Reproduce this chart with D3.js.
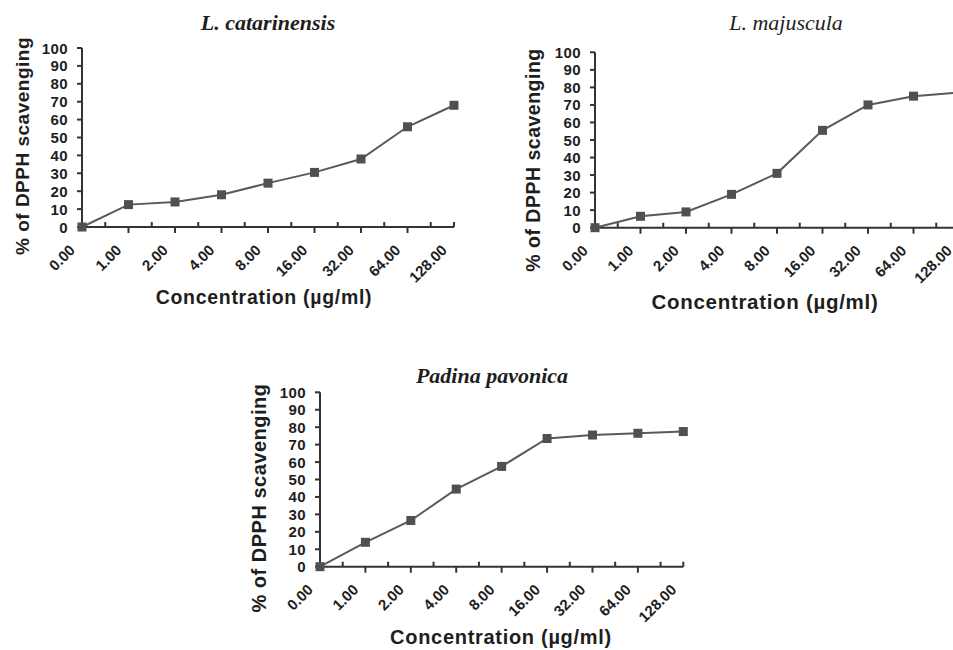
<!DOCTYPE html>
<head>
  <title>DPPH scavenging</title>
  <style>
    body { margin: 0; background: #fff; }
    svg { display: block; }
    .tick-y, .tick-x, .axis-title { font-family: "Liberation Sans", Arial, sans-serif; font-weight: bold; fill: #1e1e1e; }
    .panel-title { font-family: "Liberation Serif", "Times New Roman", serif; font-style: italic; fill: #1e1e1e; }
  </style>
</head>
<body>
  <script src="https://cdn.jsdelivr.net/npm/d3@7/dist/d3.min.js"></script>
  <script>
    // data
    const concLabels = ["0.00", "1.00", "2.00", "4.00", "8.00", "16.00", "32.00", "64.00", "128.00"];
    const yTicks = [0, 10, 20, 30, 40, 50, 60, 70, 80, 90, 100];
    const catarinensis = [0, 12.5, 14, 18, 24.5, 30.5, 38, 56, 68];
    const majuscula = [0, 6.5, 9, 19, 31, 55.5, 70, 75, 77];
    const pavonica = [0, 14, 26.5, 44.5, 57.5, 73.5, 75.5, 76.5, 77.5];

    const w = 953, h = 650;
    const svg = d3.select("body").append("svg")
      .attr("width", w).attr("height", h);

    // panel layout (pixel frame of each plot)
    const panels = [
      {title: "L. catarinensis", bold: true, values: catarinensis,
       x0: 82, x1: 454, y0: 227, y1: 48, tx: 268, ty: 30,
       ylx: 29, ylc: 146, yls: 19, xtc: 264, xty: 304, xts: 19.5},
      {title: "L. majuscula", bold: false, values: majuscula,
       x0: 595, x1: 959, y0: 227.7, y1: 52.3, tx: 786, ty: 30,
       ylx: 540, ylc: 160, yls: 19.5, xtc: 765, xty: 309, xts: 20.5},
      {title: "Padina pavonica", bold: true, values: pavonica,
       x0: 320, x1: 683.3, y0: 566.7, y1: 392.3, tx: 492, ty: 383,
       ylx: 266, ylc: 498, yls: 20, xtc: 501, xty: 644, xts: 20}
    ];

    panels.forEach(function(p) {
      const g = svg.append("g");
      const x = d3.scalePoint().domain(concLabels).range([p.x0, p.x1]);
      const y = d3.scaleLinear().domain([0, 100]).range([p.y0, p.y1]);
      const step = x.step();

      // title
      g.append("text")
        .attr("class", "panel-title")
        .attr("x", p.tx).attr("y", p.ty)
        .attr("text-anchor", "middle")
        .attr("font-size", "22px")
        .attr("font-weight", p.bold ? "bold" : "normal")
        .text(p.title);

      // y axis
      g.append("line")
        .attr("x1", p.x0).attr("x2", p.x0)
        .attr("y1", y(0)).attr("y2", y(100))
        .attr("stroke", "#333").attr("stroke-width", 2);
      g.selectAll(".yt").data(yTicks).enter().append("line")
        .attr("x1", p.x0 - 5).attr("x2", p.x0)
        .attr("y1", d => y(d)).attr("y2", d => y(d))
        .attr("stroke", "#333").attr("stroke-width", 2);
      g.selectAll(".tick-y").data(yTicks).enter().append("text")
        .attr("class", "tick-y")
        .attr("x", p.x0 - 14).attr("y", d => y(d) + 5.5)
        .attr("text-anchor", "end")
        .attr("font-size", "15px")
        .attr("letter-spacing", "0.4px")
        .text(d => d);

      // x axis
      g.append("line")
        .attr("x1", p.x0).attr("x2", p.x1)
        .attr("y1", y(0)).attr("y2", y(0))
        .attr("stroke", "#333").attr("stroke-width", 2);
      // major ticks down at inner categories
      g.selectAll(".xt").data(concLabels.slice(1, -1)).enter().append("line")
        .attr("x1", d => x(d)).attr("x2", d => x(d))
        .attr("y1", y(0)).attr("y2", y(0) + 6)
        .attr("stroke", "#333").attr("stroke-width", 2);
      // minor ticks up between categories, and at the end
      g.selectAll(".xm").data(concLabels.slice(1)).enter().append("line")
        .attr("x1", d => x(d) - step / 2).attr("x2", d => x(d) - step / 2)
        .attr("y1", y(0)).attr("y2", y(0) - 5)
        .attr("stroke", "#333").attr("stroke-width", 2);
      g.append("line")
        .attr("x1", p.x1).attr("x2", p.x1)
        .attr("y1", y(0)).attr("y2", y(0) - 5)
        .attr("stroke", "#333").attr("stroke-width", 2);
      g.selectAll(".tick-x").data(concLabels).enter().append("text")
        .attr("class", "tick-x")
        .attr("text-anchor", "end")
        .attr("font-size", "15px")
        .attr("transform", d => "translate(" + (x(d) - 6) + "," + (y(0) + 24) + ") rotate(-45)")
        .text(d => d);

      // axis titles
      g.append("text")
        .attr("class", "axis-title")
        .attr("text-anchor", "middle")
        .attr("font-size", p.yls + "px")
        .attr("letter-spacing", "0.5px")
        .attr("transform", "translate(" + p.ylx + "," + p.ylc + ") rotate(-90)")
        .text("% of DPPH scavenging");
      g.append("text")
        .attr("class", "axis-title")
        .attr("text-anchor", "middle")
        .attr("font-size", p.xts + "px")
        .attr("letter-spacing", "0.7px")
        .attr("x", p.xtc)
        .attr("y", p.xty)
        .text("Concentration (µg/ml)");

      // series
      const line = d3.line()
        .x((d, i) => x(concLabels[i]))
        .y(d => y(d));
      g.append("path")
        .datum(p.values)
        .attr("d", line)
        .attr("fill", "none")
        .attr("stroke", "#5a5a5a")
        .attr("stroke-width", 2);
      g.selectAll(".pt").data(p.values).enter().append("rect")
        .attr("x", (d, i) => x(concLabels[i]) - 4.5)
        .attr("y", d => y(d) - 4.5)
        .attr("width", 9).attr("height", 9)
        .attr("fill", "#505050");
    });
  </script>
</body>
